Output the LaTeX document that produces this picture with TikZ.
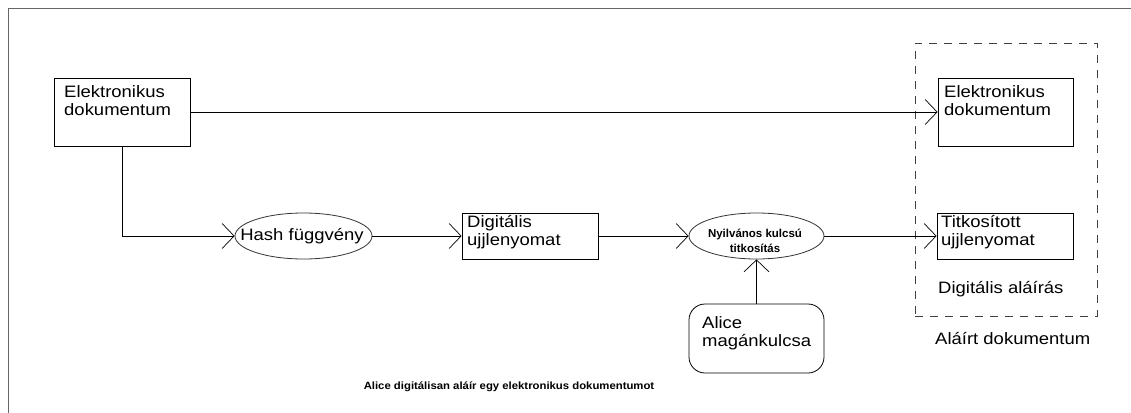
\documentclass[tikz,border=0pt]{standalone}
\usepackage{fontspec}
\setmainfont{Liberation Sans}
\newfontfamily\widefont[FakeStretch=1.12]{Liberation Sans}
\newfontfamily\capfont[FakeStretch=1.08]{Liberation Sans}
\usetikzlibrary{shapes.geometric,arrows.meta,calc}
\tikzset{
  conn/.style={line width=0.8pt, -{Straight Barb[length=12pt,width=25pt,line width=0.7pt]}},
  boxnode/.style={draw, line width=0.8pt, rectangle, inner sep=0pt},
  ellnode/.style={draw=black!80, line width=0.8pt, ellipse, inner sep=0pt, minimum width=137pt, minimum height=46pt},
  txt/.style={inner sep=0pt, align=left, font=\widefont\fontsize{16.5}{18}\selectfont},
  smalltxt/.style={inner sep=0pt, align=center, font=\fontsize{11.5}{15}\selectfont\bfseries},
  dashbox/.style={draw=black!75, line width=0.9pt, dash pattern=on 8pt off 7pt, rectangle, inner sep=0pt},
}
\begin{document}
\begin{tikzpicture}[x=1pt,y=-1pt]
\useasboundingbox (0,0) rectangle (1131,412);
\clip (0,0) rectangle (1131,412);
\fill[white] (0,0) rectangle (1131,412);
\draw[black!60, line width=1pt] (8,430) -- (8,9) -- (1145,9);

% boxes
\node[boxnode, minimum width=136pt, minimum height=68pt] (e1) at (122,112) {};
\node[txt, anchor=north west] (e1t) at (64,85) {Elektronikus\\dokumentum};

\node[boxnode, minimum width=135pt, minimum height=68pt] (e2) at (1005.5,112) {};
\node[txt, anchor=north west] (e2t) at (944,85) {Elektronikus\\dokumentum};

\node[ellnode] (hash) at (303.5,236) {};
\node[txt, anchor=center] (hasht) at (302,236) {Hash függvény};

\node[boxnode, minimum width=136pt, minimum height=46pt] (dig) at (530,236) {};
\node[txt, anchor=north west] (digt) at (467,215) {Digitális\\ujjlenyomat};

\node[ellnode, minimum width=135pt] (nyil) at (756.5,236) {};
\node[smalltxt] (nyilt) at (755,241) {Nyilvános kulcsú\\titkosítás};

\node[boxnode, minimum width=136pt, minimum height=46pt] (tit) at (1005,236) {};
\node[txt, anchor=north west] (titt) at (941,215) {Titkosított\\ujjlenyomat};

\node[boxnode, rounded corners=16pt, minimum width=135pt, minimum height=69pt] (alice) at (756.5,338.5) {};
\node[txt, anchor=north west] (alicet) at (702,316) {Alice\\magánkulcsa};

\node[dashbox, minimum width=182pt, minimum height=273pt] (sig) at (1006,179.5) {};
\node[txt, anchor=west] (sigt) at (938,289) {Digitális aláírás};
\node[txt, anchor=west] (doct) at (935,339) {Aláírt dokumentum};

\node[inner sep=0pt, font=\capfont\fontsize{10.5}{12}\selectfont\bfseries] (cap) at (509,387) {Alice digitálisan aláír egy elektronikus dokumentumot};

% connectors
\draw[conn] (e1.east) -- (e2.west);
\draw[conn] (e1.south) |- (hash.west);
\draw[conn] (hash.east) -- (dig.west);
\draw[conn] (dig.east) -- (nyil.west);
\draw[conn] (nyil.east) -- (tit.west);
\draw[conn] (alice.north) -- (nyil.south);
\end{tikzpicture}
\end{document}
